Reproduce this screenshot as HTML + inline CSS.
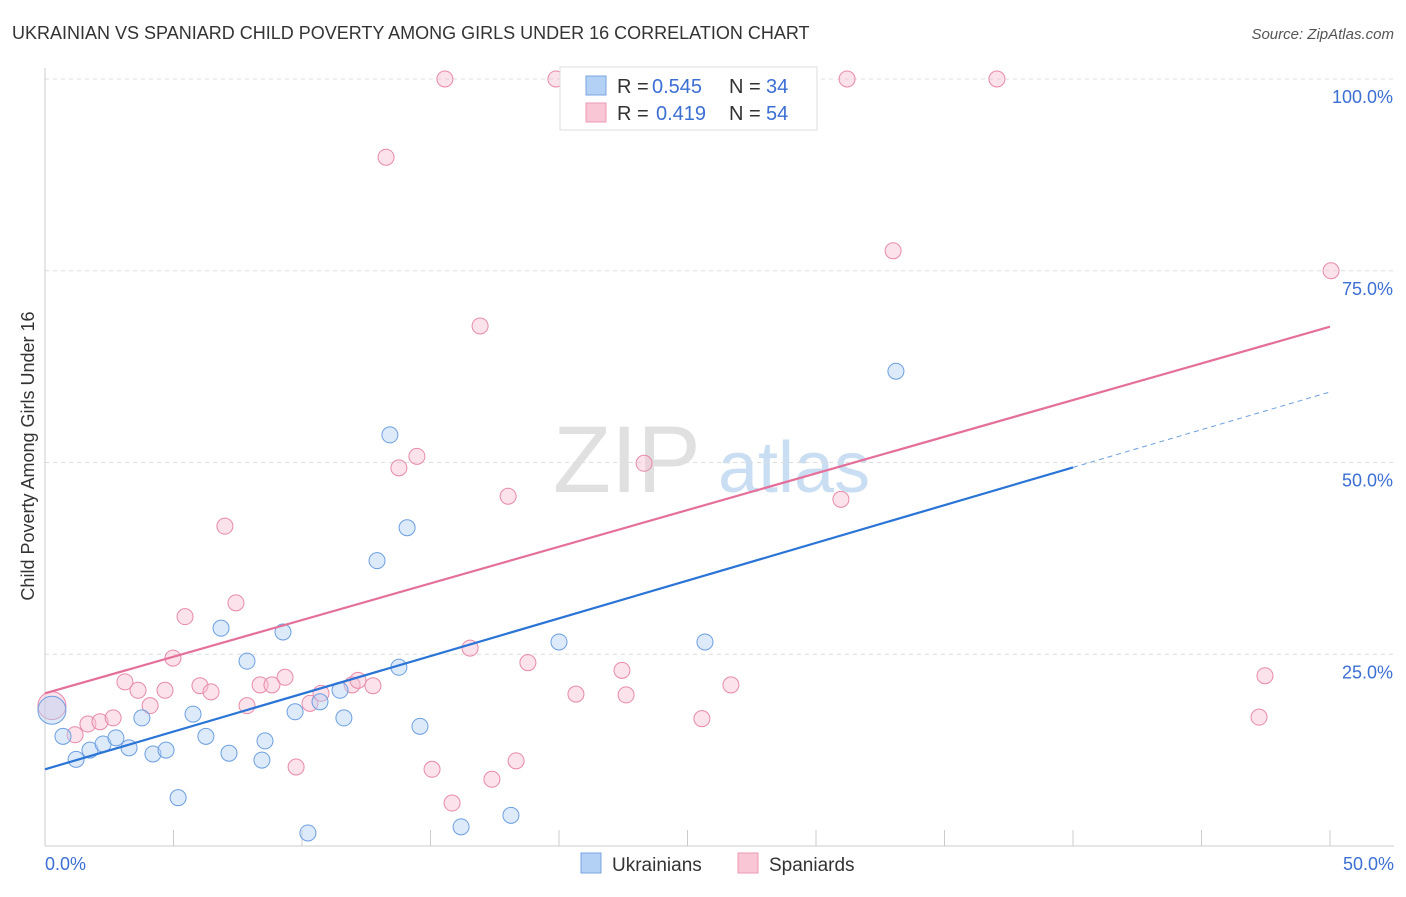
<!DOCTYPE html>
<html><head><meta charset="utf-8"><style>
body{margin:0;background:#fff;font-family:"Liberation Sans",sans-serif}
svg text{font-family:"Liberation Sans",sans-serif}
</style></head><body>
<svg id="chart" width="1406" height="892">
<text x="12" y="39" font-size="18" fill="#333">UKRAINIAN VS SPANIARD CHILD POVERTY AMONG GIRLS UNDER 16 CORRELATION CHART</text>
<text x="1394" y="39" font-size="15" fill="#555" text-anchor="end" font-style="italic">Source: ZipAtlas.com</text>
<text x="553" y="492" font-size="95" fill="#e0e0e0" font-family="Liberation Serif">ZIP</text>
<text x="718" y="492" font-size="72" fill="#cadef3">atlas</text>
<text transform="translate(34,456) rotate(-90)" font-size="18" fill="#333" text-anchor="middle">Child Poverty Among Girls Under 16</text>
<g id="grid"></g><g id="marks"></g>
<g>
<rect x="560" y="67" width="257" height="63" fill="#fff" stroke="#ddd"/>
<rect x="586" y="76" width="20" height="19" fill="#b3d0f5" stroke="#7aa6e0"/>
<text x="617" y="93" font-size="20" fill="#333">R =</text>
<text x="652" y="93" font-size="20" fill="#3b6fd4">0.545</text>
<text x="729" y="93" font-size="20" fill="#333">N =</text>
<text x="766" y="93" font-size="20" fill="#3b6fd4">34</text>
<rect x="586" y="103" width="20" height="19" fill="#f9c6d6" stroke="#ec9ab4"/>
<text x="617" y="120" font-size="20" fill="#333">R =</text>
<text x="656" y="120" font-size="20" fill="#3b6fd4">0.419</text>
<text x="729" y="120" font-size="20" fill="#333">N =</text>
<text x="766" y="120" font-size="20" fill="#3b6fd4">54</text>
</g>
<g>
<rect x="581" y="853" width="20" height="20" fill="#b3d0f5" stroke="#7aa6e0"/>
<text x="612" y="871" font-size="19" fill="#333">Ukrainians</text>
<rect x="738" y="853" width="20" height="20" fill="#f9c6d6" stroke="#ec9ab4"/>
<text x="769" y="871" font-size="19" fill="#333">Spaniards</text>
</g>
</svg>
<script>
const yTicks=[25,50,75,100];
const yTickLabels=["25.0%","50.0%","75.0%","100.0%"];
const xTickLabels=["0.0%","50.0%"];
const ukrX=[0.27,0.7,1.21,1.75,2.26,2.76,3.27,3.77,4.2,4.71,5.18,5.76,6.26,7.16,6.85,7.86,8.44,8.56,9.26,9.73,10.23,10.7,11.48,11.63,12.92,13.42,13.77,14.09,14.59,16.19,18.13,20.0,25.68,33.11];
const ukrY=[17.7,14.3,11.3,12.5,13.3,14.1,12.8,16.7,12.0,12.5,6.3,17.2,14.3,12.1,28.4,24.1,11.2,13.7,27.9,17.5,1.7,18.8,20.3,16.7,37.2,53.6,23.3,41.5,15.6,2.5,4.0,26.6,26.6,61.9];
const spaX=[0.27,1.17,1.67,2.14,2.65,3.11,3.62,4.09,4.67,4.98,5.45,6.03,6.46,7.0,7.43,7.86,8.37,8.83,9.34,9.77,10.31,10.74,11.95,12.18,12.76,13.27,13.77,14.47,15.06,15.56,15.84,16.54,16.93,17.39,18.02,18.33,18.79,19.88,20.66,22.45,22.61,23.31,25.56,26.69,30.97,31.21,33.0,37.04,47.24,47.47,50.04];
const spaY=[18.3,14.5,15.9,16.2,16.7,21.4,20.3,18.3,20.3,24.5,29.9,20.9,20.1,41.7,31.7,18.3,21.0,21.0,22.0,10.3,18.6,19.9,21.0,21.6,20.9,89.8,49.3,50.8,10.0,100,5.6,25.8,67.8,8.7,45.6,11.1,23.9,100,19.8,22.9,19.7,49.9,16.6,21.0,45.2,100,77.6,100,16.8,22.2,75.0];
const ukrLine=[10.0,59.2];
const spaLine=[19.9,67.7];
const X=v=>45+v*25.7, Y=v=>846-v*7.67;
const NS="http://www.w3.org/2000/svg";
function mk(t,a,p){const e=document.createElementNS(NS,t);for(const k in a)e.setAttribute(k,a[k]);p.appendChild(e);return e;}
const grid=document.getElementById('grid'),marks=document.getElementById('marks');
yTicks.forEach((t,i)=>{
 const l=mk('line',{x1:45,x2:1394,y1:Y(t),y2:Y(t),stroke:'#ddd','stroke-dasharray':'4,4'},grid);
 
 
 const tx=mk('text',{x:1393,y:Y(t)+24,'font-size':18,fill:'#3b6fd4','text-anchor':'end'},grid);
 tx.textContent=yTickLabels[i];
 
 
});
const ax=mk('line',{x1:45,x2:45,y1:68,y2:846,stroke:'#ccc'},grid);


const bx=mk('line',{x1:45,x2:1394,y1:846,y2:846,stroke:'#ccc'},grid);


for(let i=1;i<=10;i++){const t=mk('line',{x1:X(i*5),x2:X(i*5),y1:830,y2:846,stroke:'#ccc'},grid);
 
 }
[[0,'start',45],[50,'end',1394]].forEach((d,i)=>{const t=mk('text',{x:d[2],y:870,'font-size':18,fill:'#3b6fd4','text-anchor':d[1]},grid);t.textContent=xTickLabels[i];
 
 });
function pts(xs,ys,fill,stroke,name){xs.forEach((x,i)=>{const c=mk('circle',{cx:X(x),cy:Y(ys[i]),r:i==0?14:8,fill:fill,'fill-opacity':0.45,stroke:stroke,'stroke-width':1},marks);
 
 });}
pts(spaX,spaY,'#f7bfd2','#e88aa8','spaniard-point');
pts(ukrX,ukrY,'#b3d0f5','#6c9fe0','ukrainian-point');
const ua=ukrLine[0],ub=(ukrLine[1]-ukrLine[0])/50;
const l1=mk('line',{x1:X(0),y1:Y(ua),x2:X(40),y2:Y(ua+ub*40),stroke:'#2a74d6','stroke-width':2.2},marks);


const l2=mk('line',{x1:X(40),y1:Y(ua+ub*40),x2:X(50),y2:Y(ukrLine[1]),stroke:'#6c9fe0','stroke-width':1,'stroke-dasharray':'5,4'},marks);


const l3=mk('line',{x1:X(0),y1:Y(spaLine[0]),x2:X(50),y2:Y(spaLine[1]),stroke:'#e4709a','stroke-width':2.2},marks);


</script>
</body></html>
